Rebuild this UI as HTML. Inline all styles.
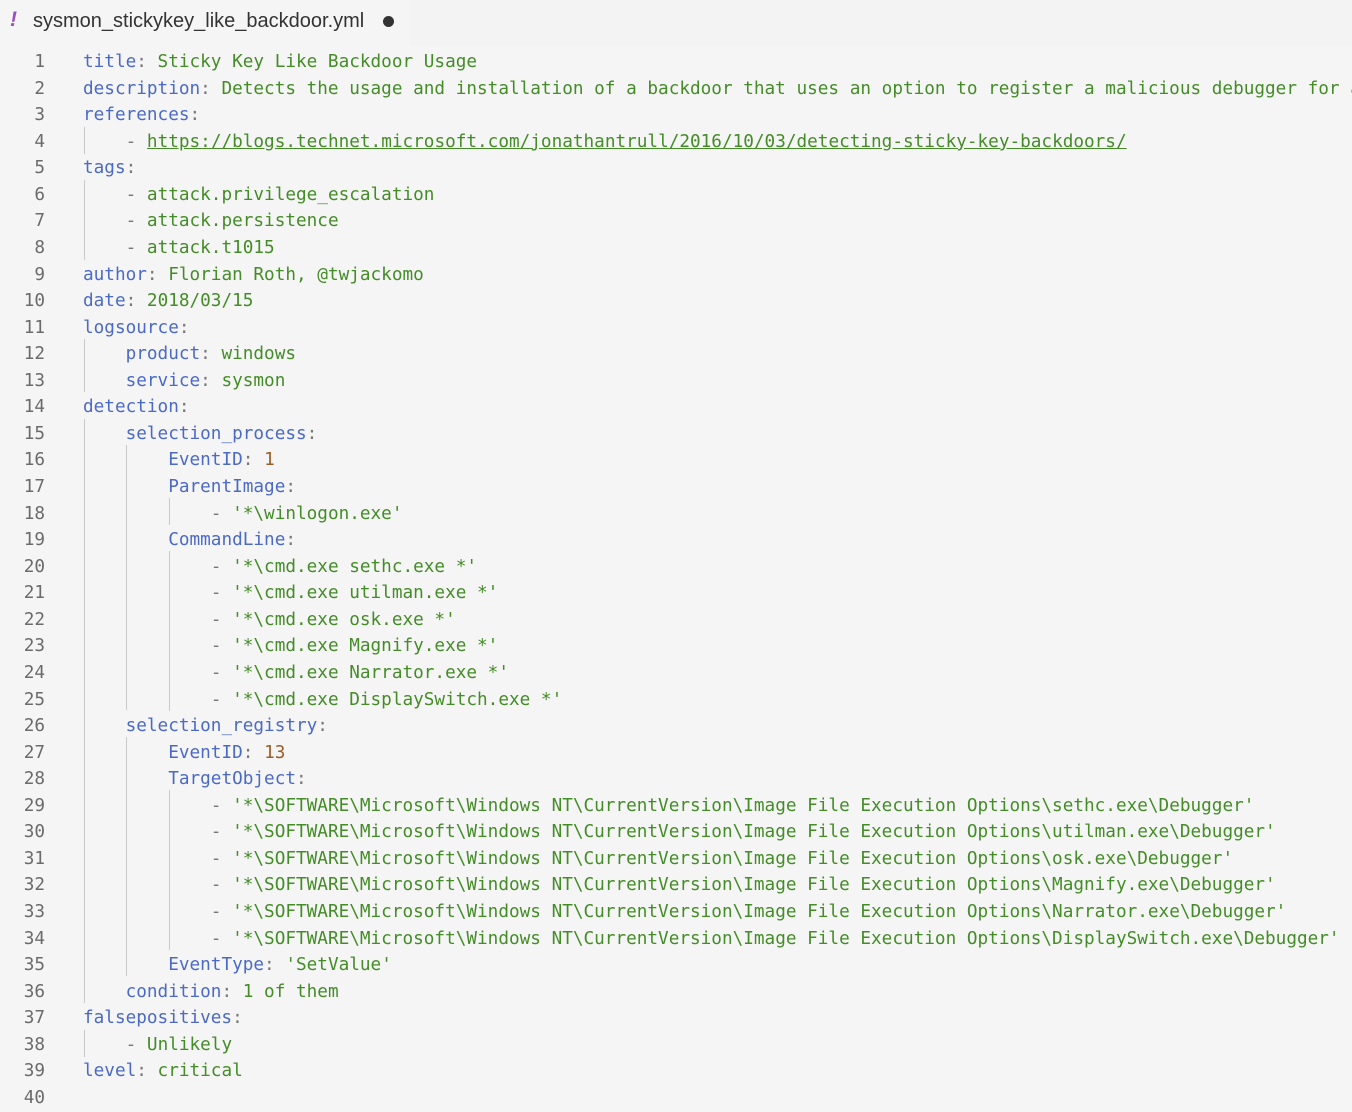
<!DOCTYPE html>
<html><head><meta charset="utf-8"><style>
html,body{margin:0;padding:0;width:1352px;height:1108px;overflow:hidden;background:#f5f5f5;}
#tabbar{position:absolute;left:0;top:0;width:1352px;height:46px;background:#f3f3f3;}
#tab{position:absolute;left:0;top:0;width:410px;height:46px;background:#f5f5f5;font-family:"Liberation Sans",sans-serif;font-size:20px;color:#333;}
#tab .ex{position:absolute;left:10px;top:8px;color:#9b4dca;font-style:italic;font-weight:bold;font-size:21px;}
#tab .nm{position:absolute;left:33px;top:10px;}
#tab .dot{position:absolute;left:383px;top:16px;width:11px;height:11px;border-radius:50%;background:#333;}
#nums{position:absolute;left:0;top:49px;width:45px;text-align:right;font-family:"DejaVu Sans Mono","Liberation Mono",monospace;font-size:17.7px;line-height:26.56px;color:#6b6b6b;white-space:pre;}
#code{position:absolute;left:83px;top:49px;margin:0;font-family:"DejaVu Sans Mono","Liberation Mono",monospace;font-size:17.7px;line-height:26.56px;color:#448c27;white-space:pre;}
.k{color:#4b69c6}.p{color:#777}.n{color:#9c5d27}.u{text-decoration:underline}
.g{position:absolute;width:1px;background:#c8c8c8;}
</style></head><body>
<div id="tabbar"></div>
<div id="tab"><span class="ex">!</span><span class="nm">sysmon_stickykey_like_backdoor.yml</span><span class="dot"></span></div>
<div class="g" style="left:84px;top:127px;height:27px"></div>
<div class="g" style="left:84px;top:180px;height:80px"></div>
<div class="g" style="left:84px;top:339px;height:53px"></div>
<div class="g" style="left:84px;top:419px;height:584px"></div>
<div class="g" style="left:84px;top:1030px;height:27px"></div>
<div class="g" style="left:126px;top:445px;height:265px"></div>
<div class="g" style="left:126px;top:737px;height:239px"></div>
<div class="g" style="left:169px;top:498px;height:27px"></div>
<div class="g" style="left:169px;top:551px;height:160px"></div>
<div class="g" style="left:169px;top:790px;height:160px"></div>
<div id="nums">1
2
3
4
5
6
7
8
9
10
11
12
13
14
15
16
17
18
19
20
21
22
23
24
25
26
27
28
29
30
31
32
33
34
35
36
37
38
39
40</div>
<pre id="code"><span class="k">title</span><span class="p">:</span> Sticky Key Like Backdoor Usage
<span class="k">description</span><span class="p">:</span> Detects the usage and installation of a backdoor that uses an option to register a malicious debugger for a
<span class="k">references</span><span class="p">:</span>
    <span class="p">-</span> <span class="u">https://blogs.technet.microsoft.com/jonathantrull/2016/10/03/detecting-sticky-key-backdoors/</span>
<span class="k">tags</span><span class="p">:</span>
    <span class="p">-</span> attack.privilege_escalation
    <span class="p">-</span> attack.persistence
    <span class="p">-</span> attack.t1015
<span class="k">author</span><span class="p">:</span> Florian Roth, @twjackomo
<span class="k">date</span><span class="p">:</span> 2018/03/15
<span class="k">logsource</span><span class="p">:</span>
    <span class="k">product</span><span class="p">:</span> windows
    <span class="k">service</span><span class="p">:</span> sysmon
<span class="k">detection</span><span class="p">:</span>
    <span class="k">selection_process</span><span class="p">:</span>
        <span class="k">EventID</span><span class="p">:</span> <span class="n">1</span>
        <span class="k">ParentImage</span><span class="p">:</span>
            <span class="p">-</span> '*\winlogon.exe'
        <span class="k">CommandLine</span><span class="p">:</span>
            <span class="p">-</span> '*\cmd.exe sethc.exe *'
            <span class="p">-</span> '*\cmd.exe utilman.exe *'
            <span class="p">-</span> '*\cmd.exe osk.exe *'
            <span class="p">-</span> '*\cmd.exe Magnify.exe *'
            <span class="p">-</span> '*\cmd.exe Narrator.exe *'
            <span class="p">-</span> '*\cmd.exe DisplaySwitch.exe *'
    <span class="k">selection_registry</span><span class="p">:</span>
        <span class="k">EventID</span><span class="p">:</span> <span class="n">13</span>
        <span class="k">TargetObject</span><span class="p">:</span>
            <span class="p">-</span> '*\SOFTWARE\Microsoft\Windows NT\CurrentVersion\Image File Execution Options\sethc.exe\Debugger'
            <span class="p">-</span> '*\SOFTWARE\Microsoft\Windows NT\CurrentVersion\Image File Execution Options\utilman.exe\Debugger'
            <span class="p">-</span> '*\SOFTWARE\Microsoft\Windows NT\CurrentVersion\Image File Execution Options\osk.exe\Debugger'
            <span class="p">-</span> '*\SOFTWARE\Microsoft\Windows NT\CurrentVersion\Image File Execution Options\Magnify.exe\Debugger'
            <span class="p">-</span> '*\SOFTWARE\Microsoft\Windows NT\CurrentVersion\Image File Execution Options\Narrator.exe\Debugger'
            <span class="p">-</span> '*\SOFTWARE\Microsoft\Windows NT\CurrentVersion\Image File Execution Options\DisplaySwitch.exe\Debugger'
        <span class="k">EventType</span><span class="p">:</span> 'SetValue'
    <span class="k">condition</span><span class="p">:</span> 1 of them
<span class="k">falsepositives</span><span class="p">:</span>
    <span class="p">-</span> Unlikely
<span class="k">level</span><span class="p">:</span> critical
</pre>
</body></html>
